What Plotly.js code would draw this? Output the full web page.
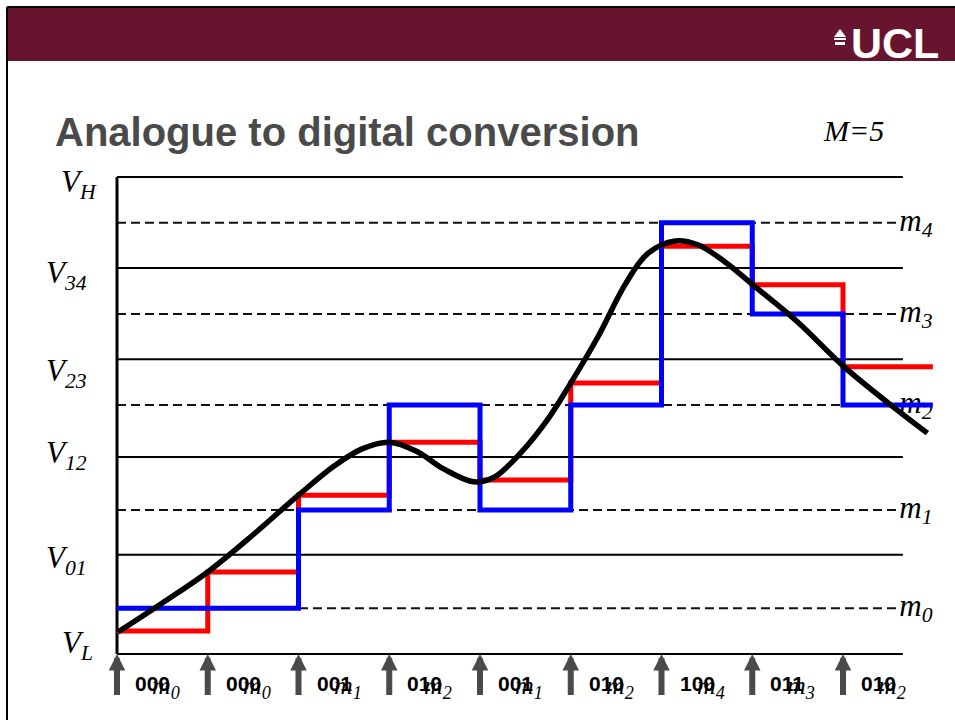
<!DOCTYPE html>
<html>
<head>
<meta charset="utf-8">
<script src="https://cdn.plot.ly/plotly-3.0.1.min.js"></script>
<style>html,body{margin:0;padding:0;background:#fff;}#chart{width:955px;height:720px;}</style>
</head>
<body>
<div id="chart"></div>
<script>
// ---------- data ----------
const sampleTimes = [0, 1, 2, 3, 4, 5, 6, 7, 8];
const holdEnd = 8.99;
const heldValues = [0.48, 1.72, 3.33, 4.44, 3.65, 5.68, 8.55, 7.74, 6.02];      // red: sampled value
const quantIndex = [0, 0, 1, 2, 1, 2, 4, 3, 2];                                  // blue: quantised level index
const codes = ['000', '000', '001', '010', '001', '010', '100', '011', '010'];
const levelNames = ['0', '1', '2', '3', '4'];                                    // m subscripts
const levelValues = [0.96, 3.02, 5.22, 7.13, 9.04];                              // dashed m_k levels
const thresholdNames = ['L', '01', '12', '23', '34', 'H'];                       // V subscripts
const thresholdValues = [0, 2.08, 4.13, 6.18, 8.09, 10];                         // solid V lines
const signalT = [0.01, 0.5, 1.0, 1.5, 2.0, 2.4, 2.7, 3.0, 3.3, 3.6, 3.93, 4.15, 4.45, 4.75, 5.0, 5.3, 5.6, 5.85, 6.15, 6.4, 6.7, 7.0, 7.5, 8.0, 8.5, 8.93];
const signalV = [0.46, 1.07, 1.72, 2.50, 3.33, 3.95, 4.30, 4.44, 4.25, 3.88, 3.61, 3.70, 4.22, 4.93, 5.68, 6.65, 7.75, 8.40, 8.66, 8.58, 8.22, 7.75, 6.96, 6.04, 5.26, 4.63];
const titleText = 'Analogue to digital conversion';
const mText = 'M=5';

// ---------- layout helpers ----------
const W = 955, H = 720;
const SERIF = 'Liberation Serif, Times New Roman, serif';
const SANS = 'Liberation Sans, Arial, sans-serif';
const px = v => v / W, py = v => 1 - v / H;
const solidEnd = 8.66, dashEnd = 8.62;

const traces = [];
// solid threshold lines
thresholdValues.forEach(v => traces.push({
  type: 'scatter', mode: 'lines', x: [0, solidEnd], y: [v, v],
  line: {color: '#000', width: 2}, hoverinfo: 'skip'
}));
// dashed reconstruction levels
levelValues.forEach(v => traces.push({
  type: 'scatter', mode: 'lines', x: [0, dashEnd], y: [v, v],
  line: {color: '#111', width: 2, dash: '9px,5px'}, hoverinfo: 'skip'
}));
// left axis
traces.push({type: 'scatter', mode: 'lines', x: [0, 0], y: [thresholdValues[0], thresholdValues[thresholdValues.length - 1]],
  line: {color: '#000', width: 3}, hoverinfo: 'skip'});
// m_k labels (under the step lines)
traces.push({
  type: 'scatter', mode: 'text', x: levelValues.map(() => dashEnd), y: levelValues,
  text: levelNames.map(n => '<i>m</i><sub><i>' + n + '</i></sub>'),
  textposition: 'middle right', textfont: {family: SERIF, size: 31, color: '#000'}, hoverinfo: 'skip', cliponaxis: false
});
// red: sample and hold
traces.push({
  type: 'scatter', mode: 'lines', x: sampleTimes.concat([holdEnd]), y: heldValues.concat([heldValues[heldValues.length - 1]]),
  line: {color: '#ff0000', width: 5, shape: 'hv'}, hoverinfo: 'skip'
});
// blue: quantised
const qv = quantIndex.map(i => levelValues[i]);
traces.push({
  type: 'scatter', mode: 'lines', x: sampleTimes.concat([holdEnd]), y: qv.concat([qv[qv.length - 1]]),
  line: {color: '#0000ff', width: 5, shape: 'hv'}, hoverinfo: 'skip'
});
// black: analogue signal
traces.push({
  type: 'scatter', mode: 'lines', x: signalT, y: signalV,
  line: {color: '#000', width: 5.5, shape: 'spline', smoothing: 1}, hoverinfo: 'skip'
});

const annotations = [];
annotations.push({xref: 'paper', yref: 'paper', x: px(53), y: py(132), xanchor: 'left', yanchor: 'middle',
  text: '<b>' + titleText + '</b>', showarrow: false, font: {family: SANS, size: 40, color: '#4a4a4a'}});
annotations.push({xref: 'paper', yref: 'paper', x: px(853), y: py(130), xanchor: 'center', yanchor: 'middle',
  text: '<i>' + mText + '</i>', showarrow: false, font: {family: SERIF, size: 30, color: '#000'}});
annotations.push({xref: 'paper', yref: 'paper', x: px(941), y: py(43), xanchor: 'right', yanchor: 'middle',
  text: '<b>UCL</b>', showarrow: false, font: {family: SANS, size: 43, color: '#fff'}});
// V labels
const vShift = [9, -5, 2, -14, -7, -7];
const vLeft = [60, 44, 44, 44, 44, 59];
thresholdValues.forEach((v, i) => annotations.push({
  xref: 'paper', yref: 'y', x: px(vLeft[i]), y: v, yshift: vShift[i], xanchor: 'left', yanchor: 'middle',
  text: '<i>V</i><sub><i>' + thresholdNames[i] + '</i></sub>', showarrow: false,
  font: {family: SERIF, size: 31, color: '#000'}
}));
// sample arrows and code labels
sampleTimes.forEach((t, k) => {
  annotations.push({x: t, y: thresholdValues[0], xref: 'x', yref: 'y', ax: 0, ay: 51, text: ' ',
    showarrow: true, arrowhead: 2, arrowsize: 0.55, arrowwidth: 6, arrowcolor: '#4a4a4a', standoff: 0});
  annotations.push({x: t, y: thresholdValues[0], xref: 'x', yref: 'y', xshift: 16, yshift: -29,
    xanchor: 'left', yanchor: 'middle', text: '<b>' + codes[k] + '</b>', showarrow: false,
    font: {family: SANS, size: 21, color: '#000'}});
  annotations.push({x: t, y: thresholdValues[0], xref: 'x', yref: 'y', xshift: 33, yshift: -33,
    xanchor: 'left', yanchor: 'middle', text: '<i>m</i><sub><i>' + levelNames[quantIndex[k]] + '</i></sub>', showarrow: false,
    font: {family: SERIF, size: 26, color: '#000'}});
});

const shapes = [
  {type: 'rect', xref: 'paper', yref: 'paper', x0: px(8), x1: 1, y0: py(61), y1: py(8), fillcolor: '#69142f', line: {width: 0}},
  {type: 'line', xref: 'paper', yref: 'paper', x0: px(7), x1: 1, y0: py(7), y1: py(7), line: {color: '#000', width: 2}},
  {type: 'line', xref: 'paper', yref: 'paper', x0: px(7), x1: px(7), y0: py(7), y1: 0, line: {color: '#000', width: 2}},
  // little portico icon of the logo
  {type: 'path', xref: 'paper', yref: 'paper',
   path: 'M' + px(834) + ',' + py(37) + ' L' + px(840) + ',' + py(29) + ' L' + px(846) + ',' + py(37) + ' Z',
   fillcolor: '#fff', line: {width: 0}},
  {type: 'rect', xref: 'paper', yref: 'paper', x0: px(834), x1: px(846), y0: py(40), y1: py(38), fillcolor: '#fff', line: {width: 0}},
  {type: 'rect', xref: 'paper', yref: 'paper', x0: px(835), x1: px(845), y0: py(45), y1: py(42), fillcolor: '#fff', line: {width: 0}}
];

const layout = {
  width: W, height: H, margin: {l: 0, r: 0, t: 0, b: 0},
  paper_bgcolor: '#fff', plot_bgcolor: 'rgba(0,0,0,0)', showlegend: false,
  xaxis: {range: [-117 / 90.75, (W - 117) / 90.75], visible: false, fixedrange: true},
  yaxis: {range: [(654 - H) / 47.7, 654 / 47.7], visible: false, fixedrange: true},
  annotations: annotations, shapes: shapes
};
Plotly.newPlot('chart', traces, layout, {displayModeBar: false, staticPlot: true});
</script>
</body>
</html>
